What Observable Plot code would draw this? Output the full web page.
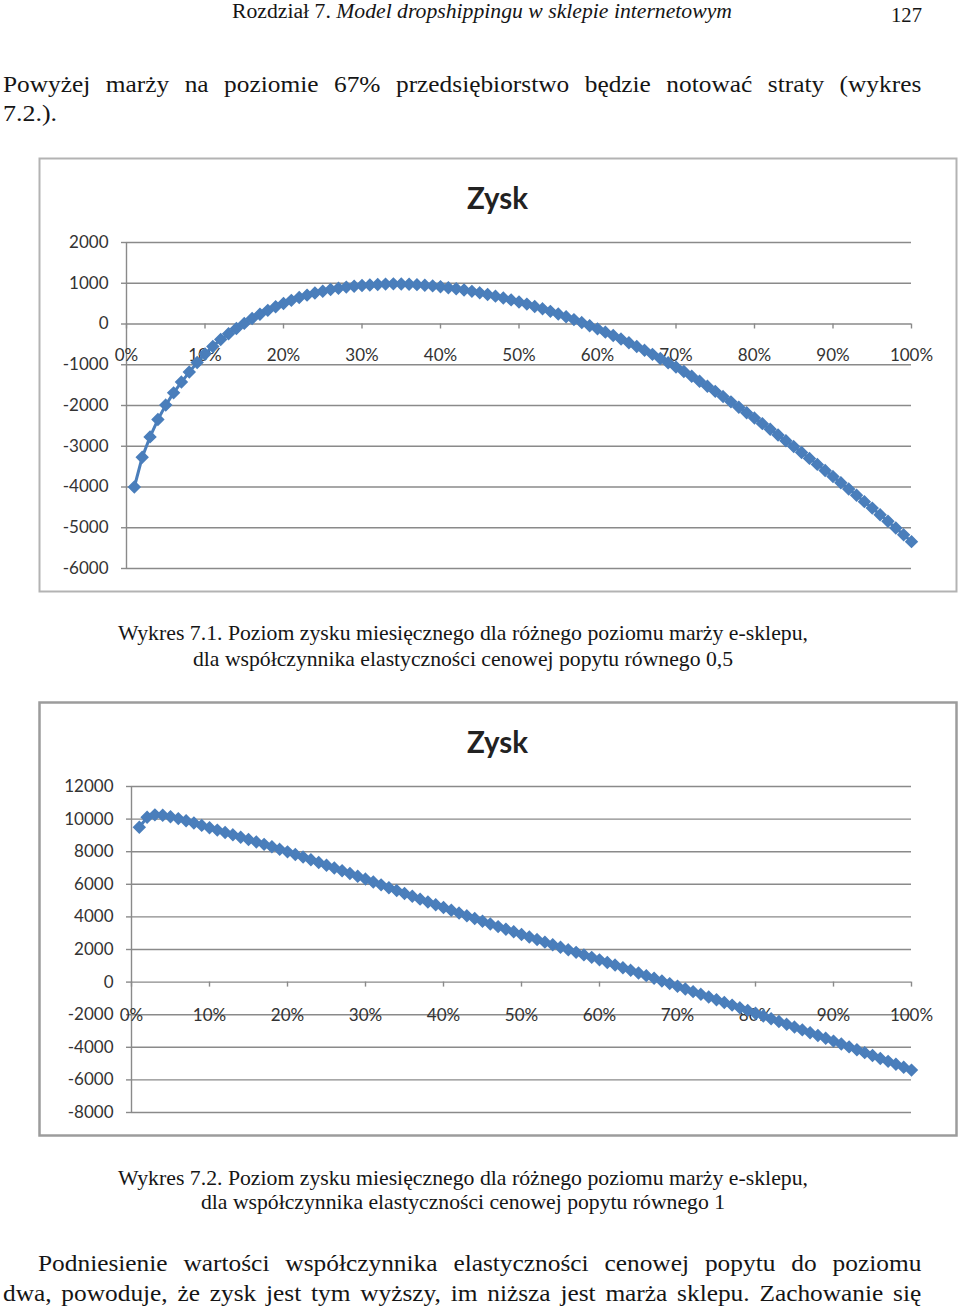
<!DOCTYPE html>
<html>
<head>
<meta charset="utf-8">
<script src="https://cdn.jsdelivr.net/npm/d3@7"></script>
<script src="https://cdn.jsdelivr.net/npm/@observablehq/plot@0.6"></script>
<style>
  html, body { margin: 0; padding: 0; background: #fff; }
  body { width: 960px; height: 1311px; position: relative; overflow: hidden; }
  .chart { position: absolute; background: #fff; }
  #page { position: absolute; left: 0; top: 0; pointer-events: none; }
</style>
</head>
<body>
<div id="c1" class="chart" style="left:39px;top:158px;width:917px;height:433px;"></div>
<div id="c2" class="chart" style="left:39px;top:702px;width:917px;height:433px;"></div>
<svg id="page" width="960" height="1311" xmlns="http://www.w3.org/2000/svg"></svg>
<script>
// ---------- data ----------
const marza = [1,2,3,4,5,6,7,8,9,10,11,12,13,14,15,16,17,18,19,20,
  21,22,23,24,25,26,27,28,29,30,31,32,33,34,35,36,37,38,39,40,
  41,42,43,44,45,46,47,48,49,50,51,52,53,54,55,56,57,58,59,60,
  61,62,63,64,65,66,67,68,69,70,71,72,73,74,75,76,77,78,79,80,
  81,82,83,84,85,86,87,88,89,90,91,92,93,94,95,96,97,98,99,100];

// Wykres 7.1 – elastyczność 0,5
const zysk1 = [-4000,-3270,-2770,-2345,-1990,-1690,-1425,-1180,-945,-735,
  -550,-380,-240,-110,15,135,240,335,423,505,
  580,650,708,760,805,845,878,905,927,945,
  959,970,979,985,983,976,966,952,935,914,
  891,864,834,801,765,726,684,639,592,541,
  488,431,372,310,246,178,108,35,-41,-119,
  -200,-283,-370,-458,-550,-646,-745,-847,-952,-1058,
  -1166,-1282,-1404,-1528,-1653,-1781,-1911,-2041,-2176,-2309,
  -2445,-2584,-2724,-2865,-3008,-3153,-3298,-3445,-3593,-3744,
  -3896,-4049,-4204,-4359,-4518,-4679,-4842,-5007,-5174,-5341];

// Wykres 7.2 – elastyczność 1
const zysk2 = [9500,10110,10260,10240,10150,10030,9900,9760,9615,9470,
  9325,9180,9035,8890,8745,8600,8450,8300,8145,7990,
  7830,7670,7505,7340,7170,7000,6830,6660,6490,6320,
  6140,5965,5790,5615,5440,5265,5090,4915,4745,4575,
  4405,4235,4065,3900,3735,3570,3405,3245,3085,2925,
  2765,2608,2451,2294,2137,1980,1825,1670,1517,1364,
  1205,1045,884,722,560,397,234,71,-92,-255,
  -420,-585,-750,-915,-1080,-1246,-1412,-1578,-1744,-1910,
  -2080,-2250,-2420,-2590,-2760,-2932,-3104,-3276,-3448,-3620,
  -3797,-3974,-4151,-4328,-4505,-4684,-4863,-5042,-5221,-5400];

const xTicks = [0,10,20,30,40,50,60,70,80,90,100];
const yTicks1 = [-6000,-5000,-4000,-3000,-2000,-1000,0,1000,2000];
const yTicks2 = [-8000,-6000,-4000,-2000,0,2000,4000,6000,8000,10000,12000];
const chartTitle = "Zysk";

// ---------- charts ----------
const BLUE = "#4a7ebb";
const GRID = "#8a8a8a";
const TXT = "#333333";

function chart(values, yTicks, marginLeft, labelDy) {
  const data = marza.map((m, i) => ({m, v: values[i]}));
  return Plot.plot({
    width: 917,
    height: 433,
    marginLeft,
    marginRight: 45,
    marginTop: 84,
    marginBottom: 23,
    x: {domain: [0, 100], axis: null, label: null},
    y: {domain: [yTicks[0], yTicks[yTicks.length - 1]], label: null},
    style: {fontFamily: "Lato, sans-serif", fontSize: "17px", color: TXT, background: "#fff", overflow: "visible"},
    marks: [
      Plot.gridY(yTicks, {stroke: GRID, strokeOpacity: 1, strokeWidth: 1.4}),
      Plot.axisY(yTicks, {tickSize: 5, tickPadding: 13, tickFormat: d => String(d), stroke: GRID, strokeWidth: 1.4, fill: TXT, fontSize: 17, label: null}),
      Plot.ruleX([0], {stroke: GRID, strokeWidth: 1.4}),
      Plot.ruleX(xTicks, {x: d => d, y1: () => 0, y2: () => 0, insetBottom: -5, stroke: GRID, strokeWidth: 1.4}),
      Plot.text(xTicks, {x: d => d, y: () => 0, dy: labelDy, text: d => d + "%", fill: TXT, fontSize: 17}),
      Plot.line(data, {x: "m", y: "v", stroke: BLUE, strokeWidth: 3}),
      Plot.dot(data, {x: "m", y: "v", symbol: "diamond2", r: 5.1, fill: BLUE, stroke: BLUE, strokeWidth: 1.5})
    ]
  });
}

document.getElementById("c1").appendChild(chart(zysk1, yTicks1, 87, 32));
document.getElementById("c2").appendChild(chart(zysk2, yTicks2, 92, 33));

// ---------- page text ----------
const NS = "http://www.w3.org/2000/svg";
const page = document.getElementById("page");
const SERIF = "'Liberation Serif', 'Times New Roman', serif";
const STRETCH = 1.08;

function el(name, attrs, parent) {
  const e = document.createElementNS(NS, name);
  for (const k in attrs) e.setAttribute(k, attrs[k]);
  (parent || page).appendChild(e);
  return e;
}

function line(parts, x1, x2, y, fs, justify) {
  const t = el("text", {"font-family": SERIF, "font-size": fs, fill: "#151515"});
  for (const p of parts) {
    const ts = el("tspan", p.italic ? {"font-style": "italic"} : {}, t);
    ts.textContent = p.t;
  }
  const target = x2 - x1;
  if (justify) {
    const text = parts.map(p => p.t).join("");
    const gaps = (text.match(/ /g) || []).length;
    const natural = t.getComputedTextLength();
    const ws = (target / STRETCH - natural) / gaps;
    if (ws >= 0) {
      t.setAttribute("word-spacing", ws);
      t.setAttribute("transform", `translate(${x1},${y}) scale(${STRETCH},1)`);
      return t;
    }
  }
  t.setAttribute("x", x1);
  t.setAttribute("y", y);
  t.setAttribute("textLength", target);
  t.setAttribute("lengthAdjust", "spacingAndGlyphs");
  return t;
}

// header
line([{t: "Rozdział 7. "}, {t: "Model dropshippingu w sklepie internetowym", italic: true}], 232, 732, 18, 20, false);
line([{t: "127"}], 891, 922, 22, 21.5, false);

// paragraph 1
line([{t: "Powyżej marży na poziomie 67% przedsiębiorstwo będzie notować straty (wykres"}], 3, 922, 91.5, 23.5, true);
line([{t: "7.2.)."}], 3, 57, 120.5, 23.5, false);

// caption 1
line([{t: "Wykres 7.1. Poziom zysku miesięcznego dla różnego poziomu marży e-sklepu,"}], 118, 808, 640, 21, false);
line([{t: "dla współczynnika elastyczności cenowej popytu równego 0,5"}], 193, 733, 665.5, 21, false);

// caption 2
line([{t: "Wykres 7.2. Poziom zysku miesięcznego dla różnego poziomu marży e-sklepu,"}], 118, 808, 1184.5, 21, false);
line([{t: "dla współczynnika elastyczności cenowej popytu równego 1"}], 201, 725, 1209, 21, false);

// paragraph 2
line([{t: "Podniesienie wartości współczynnika elastyczności cenowej popytu do poziomu"}], 38, 922, 1271, 23.5, true);
line([{t: "dwa, powoduje, że zysk jest tym wyższy, im niższa jest marża sklepu. Zachowanie się"}], 3, 922, 1301, 23.5, true);

// chart frames and titles
el("rect", {x: 39.5, y: 158.5, width: 917, height: 433, fill: "none", stroke: "#b3b3b3", "stroke-width": 2});
el("rect", {x: 39.5, y: 702.5, width: 917, height: 433, fill: "none", stroke: "#9c9c9c", "stroke-width": 2.5});
for (const yb of [209, 753]) {
  const t = el("text", {x: 497.5, y: yb, "text-anchor": "middle", "font-family": "Lato, sans-serif", "font-weight": 700, "font-size": 29.5, fill: "#222"});
  t.textContent = chartTitle;
}
</script>
</body>
</html>
